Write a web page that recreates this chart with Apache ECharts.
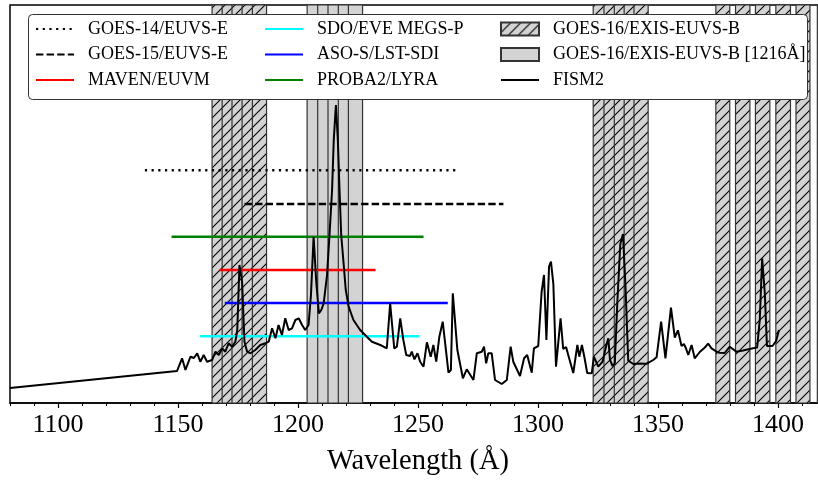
<!DOCTYPE html>
<html><head><meta charset="utf-8">
<script src="https://cdn.jsdelivr.net/npm/echarts@6/dist/echarts.min.js"></script>
<style>html,body{margin:0;padding:0;background:#fff;overflow:hidden}#c{width:826px;height:481px}</style>
</head><body><div id="c"></div>
<script>
// ---- data ----
const majorTicks = [1100, 1150, 1200, 1250, 1300, 1350, 1400];
const fismWl = [1080,1149.6,1151.7,1153.1,1155.2,1156.6,1158.0,1159.3,1160.7,1162.1,
1164.2,1165.6,1167.0,1168.4,1169.7,1171.1,1172.5,1173.9,1174.7,1175.6,
1176.7,1177.7,1178.8,1180.2,1182.2,1184.3,1186.4,1187.8,1189.2,1190.6,
1191.9,1193.3,1194.7,1196.1,1197.5,1198.9,1200.3,1201.7,1203.0,1204.4,
1205.4,1206.5,1207.6,1208.7,1209.7,1210.7,1212.1,1213.0,1214.2,1214.9,
1215.8,1216.6,1217.3,1218.0,1219.0,1219.9,1221.1,1223.1,1225.9,1228.7,
1230.8,1234.3,1237.0,1238.4,1240.1,1241.2,1242.6,1243.9,1245.1,1246.7,
1247.4,1248.5,1249.8,1250.9,1252.3,1253.7,1255.3,1256.4,1257.6,1258.9,
1260.3,1262.7,1263.7,1264.5,1266.4,1268.7,1270.3,1273.1,1274.5,1276.6,
1277.5,1278.4,1279.3,1280.7,1282.1,1284.9,1287.0,1288.6,1289.7,1292.5,
1294.2,1295.5,1297.4,1298.3,1300.1,1301.5,1302.5,1303.5,1304.6,1305.4,
1306.4,1307.5,1309.4,1310.5,1311.7,1312.6,1313.3,1314.7,1316.4,1317.2,
1318.3,1319.4,1320.5,1322.4,1323.3,1325.1,1326.9,1328.5,1329.3,1330.0,
1331.1,1332.0,1333.1,1334.3,1335.4,1336.4,1337.6,1339.7,1342.5,1345.2,
1348.0,1349.4,1351.3,1353.1,1355.4,1357.0,1358.3,1359.8,1360.8,1361.6,
1362.6,1364.0,1365.3,1367.4,1369.5,1370.9,1372.3,1374.4,1375.7,1377.8,
1379.9,1382.7,1385.4,1389.6,1391.3,1392.4,1393.4,1394.5,1395.4,1397.7,
1399.2,1400.4];
const fismVal = [15,32,44.7,33,46.3,45,49.7,41.3,48,41.3,
43,51.3,48,54.7,51.3,59.7,56.3,61.3,73,138,
121.3,61.3,51.3,49.7,53,58,59.7,61.3,74.7,64.7,
78,68,84.7,73,74.7,83,84.7,78,73,78,
108,166.3,121.3,89.7,93,99.7,128,163,213,263,
298,263,213,168,139.7,113,96.3,83,73,66.3,
61.3,58,54.7,99.7,54.7,56.3,84.7,63,48,47,
51.3,43.7,49.7,41.3,36.3,60.7,46.3,58,41.3,66.3,
81.3,30.3,33,109.7,53,24.7,33.7,23,49.7,51.3,
56.3,39.7,49.7,49.7,23,19,23,56.3,41.3,27,
44.7,48,30.3,54.7,57,111,128,63,136.3,141.3,
119,36.3,84.7,54,56,48,46.3,30,58,46.3,
58,45,30,29.7,46.3,36.3,41.3,58,64.7,43,
37,39.7,103,159,169,120,42.3,39,39.5,39.2,
43,45.7,81.3,44.7,95.3,65.5,72.7,57,59,55,
48,58,44.7,51,55.5,59.3,54.7,51.3,50.3,50,
56.3,51.3,52.5,54.7,55.5,83,144.7,110,57,57,
62,73];
// instrument passbands [wavelength, plotted level (arbitrary units)]
const goes14 = [[1136.2, 232.7], [1266.7, 232.7]];
const goes15 = [[1177.7, 199], [1285.6, 199]];
const maven  = [[1167.4, 133], [1232.3, 133]];
const sdo    = [[1159.1, 66.7], [1250.6, 66.7]];
const asos   = [[1169.5, 100], [1262.4, 100]];
const proba2 = [[1147.3, 166.3], [1252.3, 166.3]];
// GOES-16 EXIS EUVS-B channels [lo, hi] in Å
const euvsB = [[1164.2,1170.1],[1168.4,1174.3],[1172.5,1178.4],[1176.7,1182.6],[1181.0,1186.9],
  [1323.0,1328.9],[1327.5,1333.4],[1331.8,1337.7],[1335.9,1341.8],[1340.0,1345.9],
  [1374.1,1379.9],[1382.3,1388.3],[1390.6,1396.6],[1399.1,1405.2],[1407.5,1413.3],[1416.4,1422.3]];
const euvsBLya = [[1203.8,1209.7],[1208.2,1214.1],[1212.5,1218.4],[1216.8,1222.7],[1221.0,1226.9]];

const X_MIN = 1080, X_MAX = 1420, Y_MAX = 398;
const minorTicks = [];
for (let v = X_MIN; v <= X_MAX; v += 10) if (majorTicks.indexOf(v) < 0) minorTicks.push(v);

// hatch pattern
const pc = document.createElement('canvas'); pc.width = 10; pc.height = 10;
const g = pc.getContext('2d');
g.fillStyle = '#d3d3d3'; g.fillRect(0, 0, 10, 10);
g.strokeStyle = '#000'; g.lineWidth = 1.1;
g.beginPath();
g.moveTo(-1, 11); g.lineTo(11, -1);
g.moveTo(-6, 6); g.lineTo(6, -6);
g.moveTo(4, 16); g.lineTo(16, 4);
g.stroke();
const hatch = { image: pc, repeat: 'repeat' };

function bandRender(fill) {
  return function (params, api) {
    const lo = api.value(0), hi = api.value(1);
    const p0 = api.coord([lo, Y_MAX]), p1 = api.coord([hi, 0]);
    const cs = params.coordSys;
    const shape = echarts.graphic.clipRectByRect(
      { x: p0[0], y: p0[1], width: p1[0] - p0[0], height: p1[1] - p0[1] },
      { x: cs.x, y: cs.y, width: cs.width, height: cs.height });
    return shape && { type: 'rect', shape: shape, style: { fill: fill, stroke: '#333', lineWidth: 1.2 } };
  };
}

const FONT = 'Liberation Serif';
function lineSeries(name, data, color, type, width) {
  return { name: name, type: 'line', data: data, symbol: 'none', z: 3,
    lineStyle: { color: color, width: width, type: type, cap: 'butt' },
    itemStyle: { color: color }, animation: false, silent: true };
}

const chart = echarts.init(document.getElementById('c'), null, { renderer: 'canvas' });
const legendBase = {
  orient: 'vertical', top: 20, itemWidth: 38, itemHeight: 13, itemGap: 7.5,
  selectedMode: false, z: 10, padding: 0,
  textStyle: { fontFamily: FONT, fontSize: 18, color: '#000', padding: [0, 0, 0, 9] }
};
const noSym = { opacity: 0 };
chart.setOption({
  animation: false,
  textStyle: { fontFamily: FONT },
  grid: { left: 10, right: 0, top: 5, bottom: 78, show: true, borderColor: '#000', borderWidth: 1.5, containLabel: false },
  xAxis: [{
    type: 'value', min: X_MIN, max: X_MAX, position: 'bottom',
    axisLine: { show: true, lineStyle: { color: '#000', width: 1.5 } },
    axisTick: { show: true, customValues: majorTicks, length: 5, lineStyle: { color: '#000', width: 1.2 } },
    axisLabel: { show: true, customValues: majorTicks, fontFamily: FONT, fontSize: 26, color: '#000', margin: 9,
      formatter: function (v) { return String(v); } },
    splitLine: { show: false },
    name: 'Wavelength (Å)', nameLocation: 'middle', nameGap: 44,
    nameTextStyle: { fontFamily: FONT, fontSize: 28.5, color: '#000' }
  }, {
    type: 'value', min: X_MIN, max: X_MAX, position: 'bottom', gridIndex: 0,
    axisLine: { show: false },
    axisTick: { show: true, customValues: minorTicks, length: 3, lineStyle: { color: '#000', width: 1 } },
    axisLabel: { show: false }, splitLine: { show: false }
  }],
  yAxis: { type: 'value', min: 0, max: Y_MAX, axisLine: { show: false }, axisTick: { show: false },
    axisLabel: { show: false }, splitLine: { show: false } },
  graphic: [{ type: 'rect', left: 28, top: 14, z: 8,
    shape: { width: 779, height: 85, r: 4 }, style: { fill: '#fff', stroke: '#333', lineWidth: 1 } }],
  legend: [
    Object.assign({}, legendBase, { left: 35, itemStyle: noSym, data: ['GOES-14/EUVS-E', 'GOES-15/EUVS-E', 'MAVEN/EUVM'] }),
    Object.assign({}, legendBase, { left: 264, itemStyle: noSym, data: ['SDO/EVE MEGS-P', 'ASO-S/LST-SDI', 'PROBA2/LYRA'] }),
    Object.assign({}, legendBase, { left: 500, data: [
      { name: 'GOES-16/EXIS-EUVS-B', icon: 'rect' },
      { name: 'GOES-16/EXIS-EUVS-B [1216Å]', icon: 'rect' },
      { name: 'FISM2', itemStyle: noSym }] })
  ],
  series: [
    { name: 'GOES-16/EXIS-EUVS-B', type: 'custom', data: euvsB, encode: { x: [0, 1] }, z: 1,
      renderItem: bandRender(hatch), itemStyle: { color: hatch, borderColor: '#333', borderWidth: 1 }, silent: true },
    { name: 'GOES-16/EXIS-EUVS-B [1216Å]', type: 'custom', data: euvsBLya, encode: { x: [0, 1] }, z: 1,
      renderItem: bandRender('#d3d3d3'), itemStyle: { color: '#d3d3d3', borderColor: '#333', borderWidth: 1 }, silent: true },
    lineSeries('GOES-14/EUVS-E', goes14, '#000', [2.2, 4.5], 2.5),
    lineSeries('GOES-15/EUVS-E', goes15, '#000', [7.4, 3.2], 2.5),
    lineSeries('MAVEN/EUVM', maven, '#ff0000', 'solid', 2.5),
    lineSeries('SDO/EVE MEGS-P', sdo, '#00ffff', 'solid', 2.5),
    lineSeries('ASO-S/LST-SDI', asos, '#0000ff', 'solid', 2.5),
    lineSeries('PROBA2/LYRA', proba2, '#008000', 'solid', 2.5),
    Object.assign(lineSeries('FISM2', fismWl.map((w, i) => [w, fismVal[i]]), '#000', 'solid', 2), { z: 4 })
  ]
});
</script></body></html>
